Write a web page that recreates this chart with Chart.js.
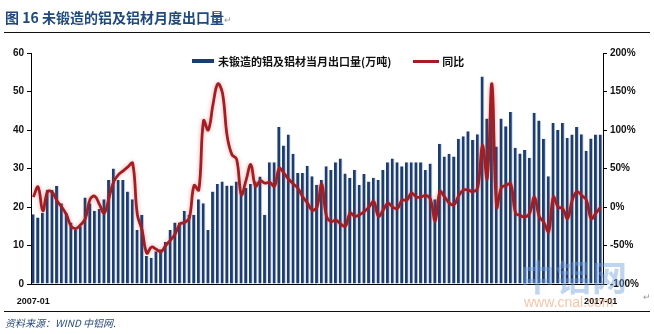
<!DOCTYPE html>
<html>
<head>
<meta charset="utf-8">
<script src="https://cdn.jsdelivr.net/npm/chart.js@4.4.1/dist/chart.umd.min.js"></script>
<style>
  html, body { margin: 0; padding: 0; background: #fff; }
  #wrap { position: relative; width: 654px; height: 334px; overflow: hidden; font-family: "Noto Sans CJK SC", "Liberation Sans", sans-serif; }
  #chart { position: absolute; left: 0; top: 0; }
  .title { position: absolute; left: 5px; top: 7px; font-size: 14px; font-weight: bold; color: #1f497d; white-space: nowrap; }
  .mark { color: #999; font-size: 9px; font-weight: normal; }
  .rule { position: absolute; left: 4px; right: 4px; height: 0; border-top: 1.5px solid #111; }
  .legend { position: absolute; top: 51px; left: 192px; font-size: 11px; font-weight: bold; color: #111; white-space: nowrap; }
  .legend span { display: inline-block; vertical-align: middle; }
  .swatch-bar { width: 22px; height: 4px; background: #1e3c6e; margin-right: 4px; }
  .swatch-line { width: 26px; height: 3px; background: #a51d22; margin-left: 22px; margin-right: 3px; }
  .source { position: absolute; left: 5px; top: 315px; font-size: 10px; font-style: italic; color: #2a4a7c; white-space: nowrap; }
  .wm-cn { position: absolute; left: 520px; top: 250px; font-size: 35px; font-weight: bold; color: rgba(110,160,220,0.45); letter-spacing: 1px; white-space: nowrap; }
  .wm-url { position: absolute; left: 524px; top: 294px; font-size: 14px; font-family: "Liberation Sans", sans-serif; color: rgba(235,150,100,0.55); white-space: nowrap; }
</style>
</head>
<body>
<div id="wrap">
  <canvas id="chart" width="654" height="334"></canvas>
  <div class="title">图 16 未锻造的铝及铝材月度出口量<span class="mark">↵</span></div>
  <div class="rule" style="top:32px"></div>
  <div class="legend">
    <span class="swatch-bar"></span><span>未锻造的铝及铝材当月出口量(万吨)</span><span class="swatch-line"></span><span>同比</span>
  </div>
  <div class="wm-cn">中铝网</div>
  <div class="wm-url">www.cnal.com</div>
  <span class="mark" style="position:absolute;left:643px;top:290px">↵</span>
  <div class="rule" style="top:311px"></div>
  <div class="source">资料来源：WIND 中铝网.</div>
</div>
<script>
// 月份：2007-01 ~ 2017-01
const months = [];
for (let y = 2007; y <= 2017; y++) {
  for (let m = 1; m <= 12; m++) {
    if (y === 2017 && m > 1) break;
    months.push(y + '-' + String(m).padStart(2, '0'));
  }
}

// 当月出口量（万吨）
const exportVol = [
  18.1, 17.3, 18.5, 24.5, 24.5, 25.5, 21, 18.5, 16, 14,
  15, 22.5, 21, 19, 19.5, 22, 27, 30, 27, 27,
  24, 22, 14, 18, 7.3, 6.8, 8.5, 9, 11, 14,
  16, 16, 19, 18, 18, 22, 21, 14, 24, 26,
  26.6, 25.6, 25.6, 26.6, 24, 25, 26, 26.6, 27.9, 18,
  31.6, 31.6, 40.8, 36, 38.8, 33.8, 28.8, 28.8, 30.7, 28,
  25.8, 27, 30.6, 29.6, 31.6, 32.6, 28.7, 27.6, 29.6, 25.7,
  28.6, 26.6, 27.6, 27, 29.6, 31.6, 32.6, 31.6, 30.6, 31.6,
  31.6, 31.6, 31.6, 29.6, 31.3, 22, 36.4, 33.1, 33.8, 33.1,
  37.7, 38.4, 39.7, 37.4, 38.9, 53.9, 43, 50, 35.7, 43,
  41, 44.7, 35.4, 33.9, 34.8, 32.8, 44.5, 42.5, 37.7, 28,
  41.8, 40, 41.8, 37.9, 38.8, 40.8, 38.9, 34.6, 37.8, 38.8,
  38.8
];

// 同比（%）
const yoy = [
  13, 26, -5, 20, 19, 8, 0, -10, -25, -28,
  -23, -15, 10, 14, 3, -8, 12, 33, 42, 47,
  52, 57, -10, -30, -60, -52, -55, -58, -50, -43,
  -35, -22, -20, -14, 28, 22, 112, 100, 133, 160,
  148, 92, 68, 62, 16, 35, 55, 27, 34, 31,
  32, 27, 50, 44, 36, 30, 24, 13, 5, -4,
  0, 30, -12, -19, -17, -22, -25, -8, -12, -10,
  -6, 0, 7, -12, -4, 5, 0, -2, 9, 9,
  18, 13, 13, 15, 10, -18, 20, 13, 5, 3,
  15, 22, 22, 20, 25, 80, 37, 160, 0, 25,
  28, 30, -8, -11, -13, -8, 13, -12, -20, -32,
  13, 0, -2, -15, 9, 20, 15, 9, -15, -8,
  0
];

const tickFont = { family: '"Liberation Sans", Arial, sans-serif', size: 10, weight: 'bold' };

// 红线加一点柔和的光晕
const lineGlow = {
  id: 'lineGlow',
  beforeDatasetDraw(chart, args) {
    if (args.meta.type !== 'line') return;
    const ctx = chart.ctx;
    ctx.save();
    ctx.shadowColor = 'rgba(200,60,60,0.45)';
    ctx.shadowBlur = 4;
  },
  afterDatasetDraw(chart, args) {
    if (args.meta.type !== 'line') return;
    chart.ctx.restore();
  }
};

new Chart(document.getElementById('chart'), {
  data: {
    labels: months,
    datasets: [
      {
        type: 'line',
        label: '同比',
        data: yoy,
        yAxisID: 'y1',
        borderColor: '#a51d22',
        borderWidth: 2.8,
        pointRadius: 0,
        tension: 0.4,
        order: 0
      },
      {
        type: 'bar',
        label: '未锻造的铝及铝材当月出口量(万吨)',
        data: exportVol,
        yAxisID: 'y',
        backgroundColor: '#1e3c6e',
        borderColor: '#b9d1ec',
        borderWidth: { top: 0, left: 0, bottom: 0, right: 1 },
        borderSkipped: false,
        categoryPercentage: 1,
        barPercentage: 0.82,
        order: 1
      }
    ]
  },
  options: {
    responsive: false,
    animation: false,
    devicePixelRatio: 1,
    layout: { padding: { top: 53, left: 0, right: 0, bottom: 0 } },
    plugins: {
      legend: { display: false },
      tooltip: { enabled: false }
    },
    scales: {
      x: {
        type: 'category',
        offset: true,
        grid: { display: false },
        border: { display: true, color: '#000', width: 1 },
        ticks: {
          autoSkip: false,
          maxRotation: 0,
          padding: 4,
          color: '#111',
          font: { family: '"Liberation Sans", Arial, sans-serif', size: 9, weight: 'bold' },
          callback: (v, i) => (i === 0 || i === months.length - 1) ? months[i] : ''
        },
        afterFit(s) { s.height = 50; }
      },
      y: {
        position: 'left',
        min: 0,
        max: 60,
        grid: { drawOnChartArea: false, tickLength: 4, color: '#000' },
        border: { color: '#000', width: 1 },
        ticks: { stepSize: 10, padding: 3, color: '#111', font: tickFont },
        afterFit(s) { s.width = 31; }
      },
      y1: {
        position: 'right',
        min: -100,
        max: 200,
        grid: { drawOnChartArea: false, tickLength: 4, color: '#000' },
        border: { color: '#000', width: 1 },
        ticks: { stepSize: 50, padding: 3, color: '#111', font: tickFont, callback: v => v + '%' },
        afterFit(s) { s.width = 51; }
      }
    }
  },
  plugins: [lineGlow]
});
</script>
</body>
</html>
